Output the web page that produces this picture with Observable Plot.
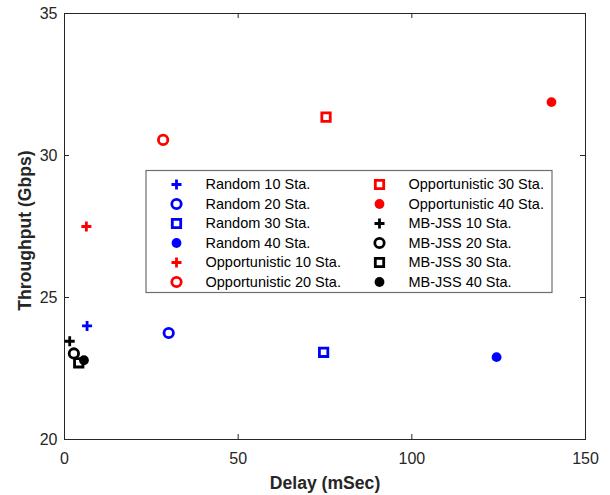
<!DOCTYPE html>
<html><head><meta charset="utf-8">
<script src="https://cdn.jsdelivr.net/npm/d3@7"></script>
<script src="https://cdn.jsdelivr.net/npm/@observablehq/plot@0.6"></script>
<style>
html,body{margin:0;padding:0;background:#fff;}
#wrap{position:relative;width:610px;height:495px;}
#wrap svg{position:absolute;left:0;top:0;}
</style></head><body><div id="wrap"></div>
<script>
// ---- data ----
const stations = [10, 20, 30, 40];
const schemes = ["Random", "Opportunistic", "MB-JSS"];
const schemeColors = ["#0000ff", "#ff0000", "#000000"];
const randomDelay = [6.5, 30.0, 74.6, 124.4];
const randomThroughput = [24.0, 23.75, 23.07, 22.9];
const oppDelay = [6.3, 28.4, 75.3, 140.2];
const oppThroughput = [27.5, 30.55, 31.35, 31.88];
const mbDelay = [1.5, 2.7, 4.1, 5.6];
const mbThroughput = [23.46, 23.03, 22.7, 22.79];
const xTicks = [0, 50, 100, 150];
const yTicks = [20, 25, 30, 35];
const xLabel = "Delay (mSec)";
const yLabel = "Throughput (Gbps)";

// ---- build ----
const delays = [randomDelay, oppDelay, mbDelay];
const thr = [randomThroughput, oppThroughput, mbThroughput];
const series = [];
schemes.forEach((s, si) => stations.forEach((st, i) => series.push({
  scheme: s, station: st, kind: i, color: schemeColors[si],
  delay: delays[si][i], throughput: thr[si][i], label: `${s} ${st} Sta.`
})));

const plusSym = {draw(ctx, size){ const h = Math.sqrt(size/Math.PI); ctx.moveTo(-h,0); ctx.lineTo(h,0); ctx.moveTo(0,-h); ctx.lineTo(0,h); }};
const squareSym = {draw(ctx, size){ const h = Math.sqrt(size/Math.PI); ctx.rect(-h,-h,2*h,2*h); }};
const styles = [
  {symbol: plusSym, r: 5, filled: false, sw: 2.8},
  {symbol: "circle", r: 4.7, filled: false, sw: 2.8},
  {symbol: squareSym, r: 4.2, filled: false, sw: 2.8},
  {symbol: "circle", r: 4.9, filled: true, sw: 0}
];
function dotOpts(d, extra) {
  const s = styles[d.kind];
  return Object.assign({symbol: s.symbol, r: s.r,
    fill: s.filled ? d.color : "none", stroke: s.filled ? "none" : d.color,
    strokeWidth: s.sw}, extra);
}

const W = 610, H = 495;
const mL = 64, mR = 25, mT = 13, mB = 56;
const pw = W - mL - mR, ph = H - mT - mB;
const font = "'Liberation Sans', Arial, sans-serif";
const axisColor = "#262626";

const main = Plot.plot({
  width: W, height: H,
  marginLeft: mL, marginRight: mR, marginTop: mT, marginBottom: mB,
  x: {domain: [0, 150], axis: null},
  y: {domain: [20, 35], axis: null},
  style: {fontFamily: font, background: "white", overflow: "visible"},
  marks: [
    Plot.ruleX(xTicks, {x: d => d, insetTop: ph - 5, stroke: axisColor}),
    Plot.ruleX(xTicks, {x: d => d, insetBottom: ph - 5, stroke: axisColor}),
    Plot.ruleY(yTicks, {y: d => d, insetRight: pw - 5, stroke: axisColor}),
    Plot.ruleY(yTicks, {y: d => d, insetLeft: pw - 5, stroke: axisColor}),
    Plot.frame({stroke: axisColor}),
    Plot.text(xTicks, {x: d => d, text: d => String(d), frameAnchor: "bottom", lineAnchor: "middle", textAnchor: "middle", dy: 19, fontSize: 16, fill: axisColor}),
    Plot.text(yTicks, {y: d => d, text: d => String(d), frameAnchor: "left", lineAnchor: "middle", dx: -7, textAnchor: "end", fontSize: 16, fill: axisColor}),
    Plot.text([xLabel], {text: d => d, frameAnchor: "bottom", lineAnchor: "middle", textAnchor: "middle", dy: 44, fontSize: 17.6, fontWeight: "bold", fill: axisColor}),
    Plot.text([yLabel], {text: d => d, frameAnchor: "left", lineAnchor: "middle", textAnchor: "middle", dx: -39, dy: 4, rotate: -90, fontSize: 17.6, fontWeight: "bold", fill: axisColor}),
    ...series.map(d => Plot.dot([d], dotOpts(d, {x: "delay", y: "throughput"})))
  ]
});

// legend overlay (pixel scales)
const legendItems = series.map((d, i) => ({...d, col: Math.floor(i / 6), row: i % 6}));
const colMarker = [176, 379], colText = [205, 408];
const rowY = r => 184 + r * 19.5;
const legend = Plot.plot({
  width: W, height: H, margin: 0,
  x: {domain: [0, W], range: [0, W], axis: null},
  y: {domain: [0, H], range: [0, H], axis: null},
  style: {fontFamily: font, background: "none"},
  marks: [
    Plot.rect([0], {x1: () => 146, x2: () => 552, y1: () => 170.5, y2: () => 292.5, fill: "white", stroke: "#6e6e6e", strokeWidth: 1.2}),
    ...legendItems.map(d => Plot.dot([d], dotOpts(d, {x: d => colMarker[d.col], y: d => rowY(d.row)}))),
    Plot.text(legendItems, {x: d => colText[d.col], y: d => rowY(d.row), text: "label", textAnchor: "start", lineAnchor: "middle", fontSize: 14.5, fill: "#000"})
  ]
});

const wrap = document.getElementById("wrap");
wrap.appendChild(main);
wrap.appendChild(legend);
</script></body></html>
